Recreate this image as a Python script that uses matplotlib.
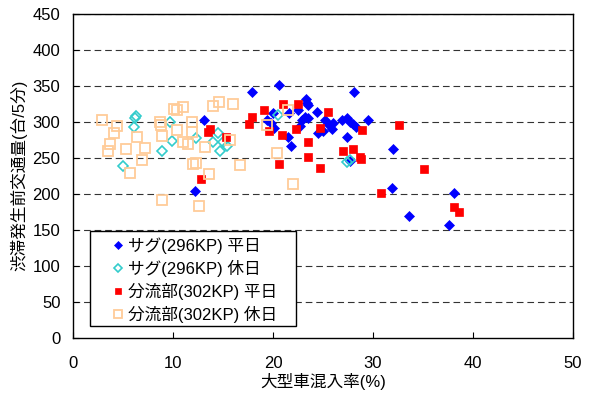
import matplotlib
matplotlib.use('Agg')
import matplotlib.pyplot as plt
from matplotlib.patches import Rectangle

plt.rcParams['font.family'] = ['Liberation Sans', 'Noto Sans CJK JP']

# サグ(296KP) 平日
sag_wd_x = [13.1, 12.2, 17.9, 20.6, 20.0, 19.4, 19.8, 20.1, 21.5, 21.8,
            21.6, 22.5, 23.3, 23.4, 23.5, 23.2, 23.5, 22.9, 22.7, 24.4,
            25.2, 25.5, 24.5, 25.0, 26.0, 25.9, 26.9, 27.4, 27.7, 28.0,
            28.3, 29.5, 27.4, 28.1, 32.0, 31.9, 27.7, 33.6, 38.1, 37.6]
sag_wd_y = [303, 204, 342, 351, 312, 303, 298, 291, 279, 266,
            312, 317, 332, 326, 323, 307, 305, 302, 294, 313,
            302, 297, 284, 287, 298, 290, 302, 305, 300, 297,
            293, 302, 279, 342, 262, 208, 246, 169, 201, 157]

# サグ(296KP) 休日
sag_hd_x = [6.3, 6.2, 6.1, 5.0, 9.7, 9.9, 8.9, 12.3, 14.5, 14.0,
            15.0, 15.4, 14.7, 20.5, 27.4, 27.7]
sag_hd_y = [308, 305, 293, 239, 300, 273, 260, 277, 285, 272,
            272, 266, 259, 309, 244, 247]

# 分流部(302KP) 平日
bun_wd_x = [12.8, 13.5, 13.7, 15.3, 17.6, 17.9, 19.1, 19.6, 20.6, 21.0,
            22.5, 20.9, 22.3, 23.5, 23.5, 24.7, 24.7, 25.5, 27.0, 28.0,
            28.7, 28.8, 28.9, 30.8, 32.6, 35.1, 38.1, 38.6]
bun_wd_y = [220, 286, 290, 279, 297, 307, 316, 287, 242, 325,
            325, 282, 290, 272, 251, 236, 292, 314, 259, 262,
            251, 248, 289, 201, 296, 234, 182, 175]

# 分流部(302KP) 休日
bun_hd_x = [2.9, 4.4, 4.1, 3.7, 3.5, 5.3, 6.4, 7.2, 6.9, 5.7,
            8.7, 8.8, 8.9, 8.9, 10.1, 10.4, 11.0, 10.4, 11.0, 11.5,
            11.9, 11.9, 13.2, 12.0, 12.3, 13.6, 12.6, 14.0, 14.6, 16.0,
            15.7, 16.7, 19.4, 20.4, 22.0, 21.5]
bun_hd_y = [303, 294, 285, 269, 260, 262, 279, 263, 247, 229,
            300, 296, 280, 191, 318, 316, 320, 289, 272, 269,
            300, 286, 265, 242, 243, 228, 183, 322, 327, 325,
            275, 240, 296, 256, 214, 316]

fig = plt.figure(figsize=(5.91, 3.96), dpi=100)
ax = fig.add_axes([0.1235, 0.1477, 0.846, 0.817])

ax.plot(sag_wd_x, sag_wd_y, linestyle='none', marker='D', markersize=5,
        color='#0000FF', markeredgewidth=0.5, label='サグ(296KP) 平日')
ax.plot(sag_hd_x, sag_hd_y, linestyle='none', marker='D', markersize=4.6,
        markerfacecolor='none', markeredgecolor='#33CCCC', markeredgewidth=1.2,
        label='サグ(296KP) 休日')
ax.plot(bun_wd_x, bun_wd_y, linestyle='none', marker='s', markersize=5.4,
        color='#FF0000', markeredgewidth=0.5, label='分流部(302KP) 平日')
ax.plot(bun_hd_x, bun_hd_y, linestyle='none', marker='s', markersize=6.5,
        markerfacecolor='none', markeredgecolor='#FFCC99', markeredgewidth=1.3,
        label='分流部(302KP) 休日')

ax.set_xlim(0, 50)
ax.set_ylim(0, 450)
ax.set_xticks(range(0, 51, 10))
ax.set_yticks(range(0, 451, 50))
ax.tick_params(direction='in', length=4, labelsize=12, color='black')
ax.tick_params(axis='x', pad=13)
ax.tick_params(axis='y', pad=9)
for sp in ax.spines.values():
    sp.set_linewidth(1.0)
    sp.set_color('black')

for yv in range(50, 451, 50):
    ax.axhline(yv, color='#333333', linewidth=0.8, linestyle=(0, (6, 3.5)), zorder=0)

ax.set_xlabel('大型車混入率(%)', fontsize=12, labelpad=2)
ax.set_ylabel('渋滞発生前交通量(台/5分)', fontsize=12, labelpad=4)

# 凡例の枠は手で描く
box = Rectangle((0.034, 0.0355), 0.412, 0.2946, transform=ax.transAxes,
                facecolor='white', edgecolor='black', linewidth=1.0, zorder=4.5)
ax.add_patch(box)

leg = ax.legend(loc='upper left', bbox_to_anchor=(0.0766, 0.31), borderaxespad=0,
                fontsize=12, frameon=False, markerscale=0.8,
                handlelength=0.8, handletextpad=0.2,
                labelspacing=0.35, borderpad=0)
leg.set_zorder(5)

fig.savefig('out.png', dpi=100)
